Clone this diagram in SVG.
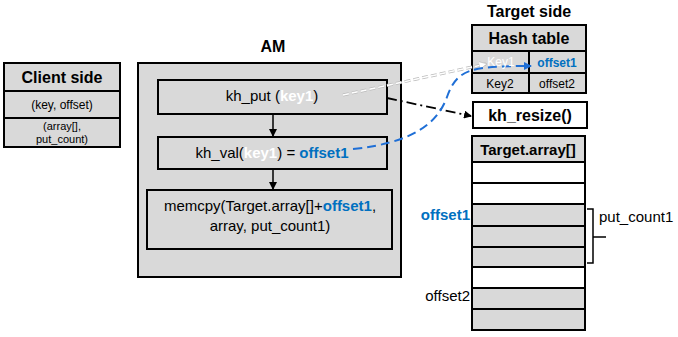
<svg xmlns="http://www.w3.org/2000/svg" width="678" height="337" viewBox="0 0 678 337">
<defs>
<style>
text{font-family:"Liberation Sans",Arial,sans-serif;fill:#000}
.g{fill:#d9d9d9;stroke:#000;stroke-width:2}
.w{fill:#fff;stroke:#000;stroke-width:2}
.b{font-weight:bold}
.blue{fill:#0070c0;font-weight:bold}
.wt{fill:#fff;font-weight:bold}
.c{text-anchor:middle}
</style>
<marker id="ak" markerWidth="8" markerHeight="8" refX="7" refY="4" orient="auto" markerUnits="userSpaceOnUse"><path d="M0,0 L8,4 L0,8 z" fill="#000"/></marker>
<marker id="aw" markerWidth="8" markerHeight="8" refX="7" refY="4" orient="auto" markerUnits="userSpaceOnUse"><path d="M0,0 L8,4 L0,8 z" fill="#fff" stroke="#aaa" stroke-width="0.5"/></marker>
<marker id="ab" markerWidth="8" markerHeight="8" refX="7" refY="4" orient="auto" markerUnits="userSpaceOnUse"><path d="M0,0 L8,4 L0,8 z" fill="#1f6fd6"/></marker>
</defs>

<g id="client">
<rect class="g" x="4" y="63" width="116" height="84"/>
<line x1="4" y1="91" x2="120" y2="91" stroke="#000" stroke-width="2"/>
<line x1="4" y1="118" x2="120" y2="118" stroke="#000" stroke-width="2"/>
<text class="b c" x="62" y="83" font-size="16">Client side</text>
<text class="c" x="62" y="109" font-size="12">(key, offset)</text>
<text class="c" x="62" y="130" font-size="11">(array[],</text>
<text class="c" x="62" y="143" font-size="11">put_count)</text>
</g>

<g id="am">
<text class="b c" x="273" y="52" font-size="16">AM</text>
<rect class="g" x="138" y="63" width="263" height="214"/>
</g>

<g id="kh_put">
<rect class="g" x="158" y="80" width="229" height="34"/>
<text class="c" x="272" y="101" font-size="15">kh_put (<tspan class="wt">key1</tspan>)</text>
</g>

<g id="kh_val">
<rect class="g" x="158" y="137" width="229" height="32"/>
<text class="c" x="272" y="158" font-size="15">kh_val(<tspan class="wt">key1</tspan>) = <tspan class="blue">offset1</tspan></text>
</g>

<g id="memcpy">
<rect class="g" x="147" y="190" width="245" height="59"/>
<text class="c" x="270" y="211" font-size="15">memcpy(Target.array[]+<tspan class="blue">offset1</tspan>,</text>
<text class="c" x="270" y="231" font-size="15">array,  put_count1)</text>
</g>

<g id="target_label">
<text class="b c" x="529" y="17" font-size="16">Target side</text>
</g>

<g id="hash_table">
<rect class="g" x="472" y="25" width="114" height="68"/>
<line x1="472" y1="51" x2="586" y2="51" stroke="#000" stroke-width="2"/>
<line x1="472" y1="73" x2="586" y2="73" stroke="#000" stroke-width="2"/>
<line x1="529" y1="51" x2="529" y2="93" stroke="#000" stroke-width="2"/>
<text class="b c" x="529" y="44" font-size="16">Hash table</text>
<text class="c blue" x="557" y="67" font-size="12">offset1</text>
<text class="c" x="500" y="88" font-size="12">Key2</text>
<text class="c" x="557" y="88" font-size="12">offset2</text>
</g>

<g id="target_array">
<rect class="g" x="472" y="136" width="113" height="26"/>
<text class="b c" x="528" y="155" font-size="15">Target.array[]</text>
<rect class="w" x="472" y="162" width="113" height="21"/>
<rect class="w" x="472" y="183" width="113" height="21"/>
<rect class="g" x="472" y="204" width="113" height="22"/>
<rect class="g" x="472" y="226" width="113" height="21"/>
<rect class="g" x="472" y="247" width="113" height="20"/>
<rect class="w" x="472" y="267" width="113" height="21"/>
<rect class="g" x="472" y="288" width="113" height="21"/>
<rect class="g" x="472" y="309" width="113" height="21"/>
<text class="blue" x="470" y="220" font-size="15" text-anchor="end">offset1</text>
<text x="470" y="301" font-size="15" text-anchor="end">offset2</text>
<path d="M587,209 H593 V263 H587 M593,237 H606" fill="none" stroke="#000" stroke-width="1.5"/>
<text x="599" y="222" font-size="15">put_count1</text>
</g>

<g id="kh_resize">
<rect class="w" x="473" y="102" width="114" height="26"/>
<text class="b c" x="530" y="121" font-size="16">kh_resize()</text>
</g>

<g id="connectors">
<line x1="273" y1="114" x2="273" y2="136" stroke="#000" stroke-width="1.5" marker-end="url(#ak)"/>
<line x1="273" y1="169" x2="273" y2="189" stroke="#000" stroke-width="1.5" marker-end="url(#ak)"/>
<line x1="343" y1="95" x2="486" y2="64" stroke="#bbb" stroke-width="3" stroke-dasharray="6,3"/>
<line x1="343" y1="95" x2="486" y2="64" stroke="#fff" stroke-width="1.5" stroke-dasharray="6,3" marker-end="url(#aw)"/>
<line x1="387" y1="98" x2="471" y2="116" stroke="#000" stroke-width="1.8" stroke-dasharray="10,4,2,4" marker-end="url(#ak)"/>
<path d="M353,149 C410,143 437,125 447,97 S470,66 531,66" fill="none" stroke="#1f6fd6" stroke-width="2" stroke-dasharray="9,5" marker-end="url(#ab)"/>
</g>

<g id="key1_label">
<text class="c" x="501" y="66" font-size="12" style="fill:#fff">Key1</text>
</g>
</svg>
